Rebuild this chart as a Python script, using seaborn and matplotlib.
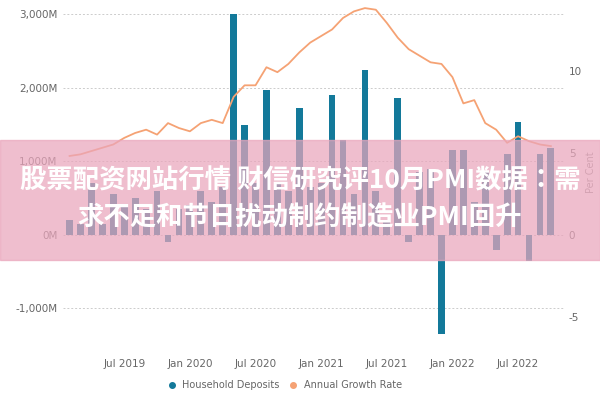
import matplotlib
matplotlib.use("Agg")
import matplotlib.pyplot as plt
import seaborn as sns
import numpy as np
import pandas as pd
from matplotlib.lines import Line2D
from matplotlib.patches import Rectangle
from matplotlib import font_manager as fm

months = pd.date_range("2019-02-01", "2022-10-01", freq="MS")
deposits = [200, 150, 700, 150, 550, 400, 500, 350, 600, -100, 350,
            400, 600, 450, 650, 3000, 1500, 700, 1970, 700, 600, 1730, 650,
            700, 1900, 1290, 550, 2240, 600, 200, 1860, -100, 850, 900, -1350,
            1150, 1150, 450, 850, -200, 1100, 1540, -350, 1100, 1180]
growth = [4.8, 4.9, 5.1, 5.3, 5.5, 5.9, 6.2, 6.4, 6.1, 6.8, 6.5, 6.3, 6.8, 7.0, 6.8,
          8.4, 9.1, 9.1, 10.2, 9.9, 10.4, 11.1, 11.7, 12.1, 12.5, 13.2, 13.6, 13.8,
          13.7, 12.9, 12.0, 11.3, 10.9, 10.5, 10.4, 9.6, 8.0, 8.2, 6.8, 6.4, 5.6,
          6.0, 5.7, 5.5, 5.4]
xtick_labels = ["Jul 2019", "Jan 2020", "Jul 2020", "Jan 2021", "Jul 2021", "Jan 2022", "Jul 2022"]
left_ticks = [-1000, 0, 1000, 2000, 3000]
left_labels = ["-1,000M", "0M", "1,000M", "2,000M", "3,000M"]
right_ticks = [-5, 0, 5, 10]
right_labels = ["-5", "0", "5", "10"]
title_lines = ["股票配资网站行情 财信研究评10月PMI数据：需", "求不足和节日扰动制约制造业PMI回升"]

names = sorted({f.name for f in fm.fontManager.ttflist if "CJK" in f.name})
cjk = None
for pref in ["Noto Sans CJK SC", "Noto Sans CJK JP", "Noto Sans CJK TC", "Noto Sans CJK KR"]:
    if pref in names:
        cjk = pref
        break
if cjk is None:
    sans = [n for n in names if "Sans" in n]
    cjk = sans[0] if sans else (names[0] if names else "DejaVu Sans")

df = pd.DataFrame({"i": np.arange(len(months)), "dep": deposits, "g": growth})
bar_c = "#13799A"
line_c = "#F5A274"
gray = "#666666"

fig = plt.figure(figsize=(6, 4), dpi=100)
ax = fig.add_axes([0.105, 0.15, 0.835, 0.838])
sns.barplot(data=df, x="i", y="dep", native_scale=True, color=bar_c, width=0.62,
            saturation=1, ax=ax, zorder=2)
ax.set_xlim(-0.6, 45.2)
ax.set_ylim(-1430, 3130)
ax.set_yticks(left_ticks)
ax.set_yticklabels(left_labels)
ax.grid(axis="y", color="#cccccc", linestyle=(0, (2, 2)), linewidth=0.7, zorder=0)
ax.set_axisbelow(True)
idx = [list(months.strftime("%b %Y")).index(l) for l in xtick_labels]
ax.set_xticks(idx)
ax.set_xticklabels(xtick_labels)
ax.set_xlabel(""); ax.set_ylabel("")
for s in ax.spines.values():
    s.set_visible(False)
ax.tick_params(length=0, labelsize=7.5, colors=gray, pad=14)
ax.tick_params(axis="y", pad=4)

ax2 = ax.twinx()
sns.lineplot(data=df, x="i", y="g", color=line_c, linewidth=1.3, ax=ax2)
ax2.set_ylim(-6.4, 14.0)
ax2.set_yticks(right_ticks)
ax2.set_yticklabels(right_labels)
ax2.set_ylabel("Per Cent", color="#999999", fontsize=7, labelpad=3)
ax2.set_xlabel("")
for s in ax2.spines.values():
    s.set_visible(False)
ax2.tick_params(length=0, labelsize=7.5, colors=gray)

handles = [Line2D([], [], marker="o", linestyle="", color=bar_c, markersize=4),
           Line2D([], [], marker="o", linestyle="", color=line_c, markersize=4)]
fig.legend(handles, ["Household Deposits", "Annual Growth Rate"], loc="center",
           bbox_to_anchor=(0.47, 0.037), ncol=2, frameon=False, fontsize=7,
           labelcolor=gray, handletextpad=0.1, columnspacing=0.4)

fig.patches.append(Rectangle((0, 0.35), 1, 0.3, transform=fig.transFigure,
                             color="#EAA6BC", alpha=0.72, zorder=10))
fig.text(0.5, 0.547, title_lines[0], ha="center", va="center", color="white",
         fontsize=19, fontweight="bold", family=cjk, zorder=11)
fig.text(0.5, 0.455, title_lines[1], ha="center", va="center", color="white",
         fontsize=19, fontweight="bold", family=cjk, zorder=11)

fig.savefig("out.png", dpi=100)
